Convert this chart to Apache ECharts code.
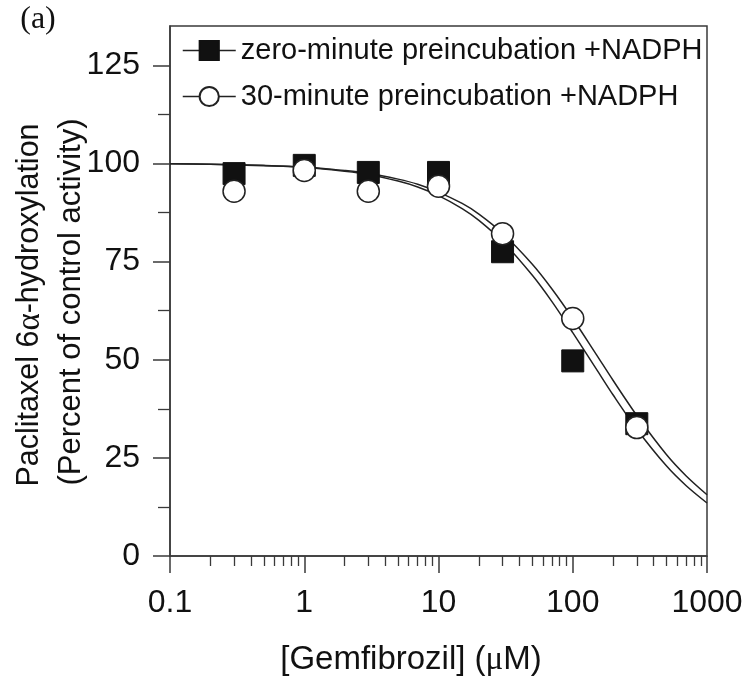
<!DOCTYPE html>
<html>
<head>
<meta charset="utf-8">
<script src="https://cdn.jsdelivr.net/npm/echarts@6/dist/echarts.min.js"></script>
<style>html,body{margin:0;padding:0;background:#fff;}#c{width:743px;height:682px;}</style>
</head>
<body>
<div id="c"></div>
<script>
// Measured points
const conc = [0.3, 1, 3, 10, 30, 100, 300];
const zeroMin = [97.4, 99.5, 97.7, 97.7, 77.5, 49.7, 33.7];
const thirtyMin = [92.9, 98.2, 92.9, 94.2, 82.1, 60.5, 32.7];
// Fitted curves
const fitConc = [0.1, 0.2, 0.5, 1, 2, 3, 5, 7, 10, 15, 20, 30, 50, 70, 100, 150, 200, 300, 500, 700, 1000];
const fitZero = [99.9, 99.8, 99.4, 99.0, 98.0, 97.2, 95.5, 94.0, 91.8, 88.5, 85.5, 80.1, 71.5, 64.8, 56.9, 47.6, 41.0, 32.3, 22.9, 17.9, 13.5];
const fitThirty = [99.9, 99.8, 99.5, 99.1, 98.2, 97.5, 96.0, 94.7, 92.7, 89.8, 87.1, 82.2, 74.3, 68.0, 60.5, 51.3, 44.7, 35.8, 25.8, 20.4, 15.6];
// Ticks
const xMajor = [0.1, 1, 10, 100, 1000];
const xMinor = [0.2,0.3,0.4,0.5,0.6,0.7,0.8,0.9,2,3,4,5,6,7,8,9,20,30,40,50,60,70,80,90,200,300,400,500,600,700,800,900];
const yMajor = [0, 25, 50, 75, 100, 125];
const yMinor = [12.5, 37.5, 62.5, 87.5, 112.5];
const legendNames = ['zero-minute preincubation +NADPH', '30-minute preincubation +NADPH'];

const FONT = "'Liberation Sans', Arial, sans-serif";
const AX = '#3a3a3a';
const chart = echarts.init(document.getElementById('c'), null, {renderer: 'canvas'});
const zip = (a, b) => a.map((v, i) => [v, b[i]]);

chart.setOption({
  animation: false,
  backgroundColor: '#fff',
  grid: {left: 170, right: 36, top: 26, bottom: 126, show: true, borderColor: AX, borderWidth: 1.5, outerBoundsMode: 'none'},
  legend: {
    left: 182, top: 36, orient: 'vertical', padding: 0, itemGap: 17,
    itemWidth: 53, itemHeight: 24,
    data: legendNames,
    textStyle: {fontFamily: FONT, fontSize: 29, color: '#111'},
    lineStyle: {opacity: 1, width: 1.5, color: '#222'}
  },
  xAxis: [{
    type: 'log', logBase: 10, min: 0.1, max: 1000,
    axisLine: {onZero: false, lineStyle: {color: AX, width: 1.5}},
    axisTick: {inside: false, length: 17, lineStyle: {color: AX, width: 1.5}, customValues: xMajor},
    axisLabel: {customValues: xMajor, formatter: v => String(v), fontFamily: FONT, fontSize: 32, color: '#111', margin: 31},
    splitLine: {show: false}
  }, {
    type: 'log', logBase: 10, min: 0.1, max: 1000, position: 'bottom',
    axisLine: {show: false},
    axisTick: {inside: false, length: 10, lineStyle: {color: AX, width: 1.3}, customValues: xMinor},
    axisLabel: {show: false},
    splitLine: {show: false}
  }],
  yAxis: [{
    type: 'value', min: 0, max: 135, interval: 25,
    axisLine: {show: true, lineStyle: {color: AX, width: 1.5}},
    axisTick: {show: true, length: 17, lineStyle: {color: AX, width: 1.5}, customValues: yMajor},
    axisLabel: {customValues: yMajor, fontFamily: FONT, fontSize: 32, color: '#111', margin: 30},
    splitLine: {show: false}
  }, {
    type: 'value', min: 0, max: 135, position: 'left',
    axisLine: {show: false},
    axisTick: {show: true, length: 12, lineStyle: {color: AX, width: 1.3}, customValues: yMinor},
    axisLabel: {show: false},
    splitLine: {show: false}
  }],
  graphic: [
    {type: 'text', x: 30, y: 305, rotation: Math.PI / 2,
      style: {text: 'Paclitaxel 6{s|α}-hydroxylation', fontFamily: FONT, fontSize: 30.5, fill: '#111', align: 'center', verticalAlign: 'middle',
        rich: {s: {fontFamily: "'Liberation Serif', serif", fontSize: 33, fill: '#111'}}}},
    {type: 'text', x: 71, y: 302, rotation: Math.PI / 2,
      style: {text: '(Percent of control activity)', fontFamily: FONT, fontSize: 31, fill: '#111', align: 'center', verticalAlign: 'middle'}},
    {type: 'text', x: 411, y: 660,
      style: {text: '[Gemfibrozil] ({s|μ}M)', fontFamily: FONT, fontSize: 33, fill: '#111', align: 'center', verticalAlign: 'middle',
        rich: {s: {fontFamily: "'Liberation Serif', serif", fontSize: 33, fill: '#111'}}}},
    {type: 'text', x: 38, y: 20,
      style: {text: '(a)', fontFamily: "'Liberation Serif', serif", fontSize: 32, fill: '#111', align: 'center', verticalAlign: 'middle'}}
  ],
  series: [
    {type: 'line', name: 'fitZero', data: zip(fitConc, fitZero), smooth: 0.3, showSymbol: false, symbol: 'none',
      lineStyle: {color: '#222', width: 1.5}, z: 2, silent: true},
    {type: 'line', name: 'fitThirty', data: zip(fitConc, fitThirty), smooth: 0.3, showSymbol: false, symbol: 'none',
      lineStyle: {color: '#222', width: 1.5}, z: 2, silent: true},
    {type: 'line', name: legendNames[0], data: zip(conc, zeroMin), symbol: 'rect', symbolSize: 22,
      lineStyle: {opacity: 0, width: 1.5, color: '#222'}, itemStyle: {color: '#111', borderColor: '#111', borderWidth: 1}, z: 3},
    {type: 'line', name: legendNames[1], data: zip(conc, thirtyMin), symbol: 'circle', symbolSize: 22,
      lineStyle: {opacity: 0, width: 1.5, color: '#222'}, itemStyle: {color: '#fff', borderColor: '#222', borderWidth: 1.5}, z: 4}
  ]
});
</script>
</body>
</html>
